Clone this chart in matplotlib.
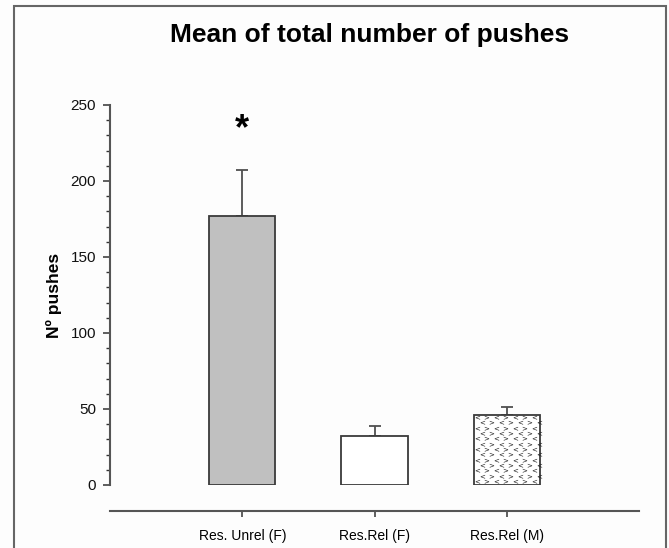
import numpy as np
import matplotlib
matplotlib.use("Agg")
import matplotlib.pyplot as plt
from matplotlib.patches import Rectangle
from matplotlib.ticker import MultipleLocator

# data
groups = ["Res. Unrel (F)", "Res.Rel (F)", "Res.Rel (M)"]
means = [177, 32, 46]
sem = [30, 7, 5]
star_y = 234  # significance marker above first bar

plt.rcParams['font.family'] = ['Liberation Sans', 'DejaVu Sans']

W, H = 669, 548
fig = plt.figure(figsize=(W / 100, H / 100), dpi=100)
fig.patch.set_facecolor('#fdfdfd')

# axes placed in pixel terms: y spine at x=110, 0..250 spans y=485..105
ax = fig.add_axes([110 / W, (H - 485) / H, (639 - 110) / W, (485 - 105) / H])
ax.set_facecolor('#fdfdfd')

x = np.arange(len(groups))
edge = '#3a3a3a'
bars = ax.bar(x, means, width=0.5, color=['#c0c0c0', 'white', 'white'],
              edgecolor=edge, linewidth=1.3, zorder=3)
ax.errorbar(x, means, yerr=[np.zeros(len(sem)), sem], fmt='none',
            ecolor='#505050', elinewidth=1.3, capsize=4.5, capthick=1.3, zorder=2)

# chevron texture for the third bar: little < and > glyphs clipped to the bar
b = bars[2]
x0, y0 = b.get_x(), b.get_y()
bw, bh = b.get_width(), b.get_height()
row_step = 3.5
col_step = 0.072
for i, yy in enumerate(np.arange(y0 + row_step * 0.7, y0 + bh, row_step)):
    cols = np.arange(x0 + col_step * 0.35 + (col_step / 2) * (i % 2), x0 + bw, col_step)
    for j, xx in enumerate(cols):
        ch = '<' if j % 2 == 0 else '>'
        t = ax.text(xx, yy, ch, fontsize=5, color='#1e1e1e', ha='center',
                    va='center', zorder=4, family='DejaVu Sans')
        t.set_clip_path(b)

ax.text(x[0], star_y, '*', fontsize=26, fontweight='bold', ha='center',
        va='center', color='black')

ax.set_xlim(-1, 3)
ax.set_ylim(0, 250)
ax.yaxis.set_major_locator(MultipleLocator(50))
ax.yaxis.set_minor_locator(MultipleLocator(10))
ax.set_xticks(x)
ax.set_xticklabels(groups, fontsize=11, color='#111111')

for s in ['top', 'right']:
    ax.spines[s].set_visible(False)
ax.spines['bottom'].set_position(('outward', 19))
for s in ['left', 'bottom']:
    ax.spines[s].set_color('#555555')
    ax.spines[s].set_linewidth(1.5)
ax.tick_params(axis='y', which='major', length=5, width=1.1, color='#333333',
               labelsize=11, labelcolor='#111111', pad=5)
ax.tick_params(axis='y', which='minor', length=3, width=1.0, color='#333333')
ax.tick_params(axis='x', length=4, width=1.1, color='#333333', pad=9)

ax.set_ylabel('Nº pushes', fontsize=12.5, fontweight='bold', labelpad=6)

fig.text(370 / W, 1 - 35 / H, 'Mean of total number of pushes', fontsize=19,
         fontweight='bold', ha='center', va='center')

# frame round the figure (bottom edge is cropped in the original)
fig.patches.append(Rectangle((14 / W, -0.05), (666 - 14) / W, 1.05 - 6 / H,
                             transform=fig.transFigure, fill=False,
                             edgecolor='#666666', linewidth=1.5))

fig.savefig('out.png', dpi=100)
